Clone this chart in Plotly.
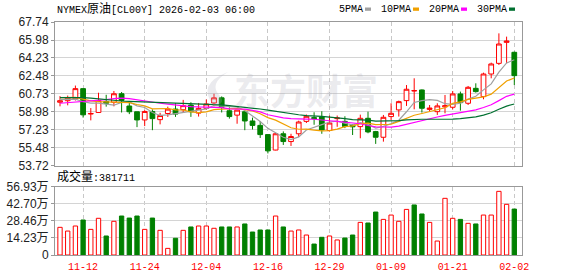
import plotly.graph_objects as go

# ---------------- data ----------------
dates = ["11-07", "11-10", "11-11", "11-12", "11-13", "11-14", "11-17", "11-18", "11-19", "11-20",
         "11-21", "11-24", "11-25", "11-26", "11-27", "11-28", "12-01", "12-02", "12-03", "12-04",
         "12-05", "12-08", "12-09", "12-10", "12-11", "12-12", "12-15", "12-16", "12-17", "12-18",
         "12-19", "12-22", "12-23", "12-24", "12-26", "12-29", "12-30", "12-31", "01-02", "01-05",
         "01-06", "01-07", "01-08", "01-09", "01-12", "01-13", "01-14", "01-15", "01-16", "01-19",
         "01-20", "01-21", "01-22", "01-23", "01-26", "01-27", "01-28", "01-29", "01-30", "02-02"]

opens = [59.90, 60.05, 60.23, 61.23, 58.75, 58.90, 59.98, 59.90, 60.73, 59.53,
         58.97, 58.17, 59.00, 58.20, 58.80, 59.23, 59.17, 59.63, 58.84, 59.30,
         59.83, 60.33, 59.07, 58.64, 58.97, 58.07, 57.64, 56.74, 55.23, 56.82,
         56.06, 56.82, 58.03, 58.40, 58.46, 57.14, 58.30, 58.03, 57.70, 57.52,
         58.33, 57.03, 56.48, 58.50, 59.15, 60.06, 61.00, 61.10, 59.20, 58.98,
         59.45, 59.41, 60.71, 59.80, 61.26, 60.45, 62.66, 63.70, 65.75, 64.78]
highs = [60.50, 60.55, 61.53, 61.25, 59.33, 60.83, 60.63, 61.00, 60.90, 59.90,
         58.97, 59.13, 59.20, 58.87, 59.47, 59.80, 60.13, 59.90, 59.83, 60.17,
         60.73, 60.47, 59.40, 59.13, 59.00, 58.40, 58.07, 56.74, 56.90, 57.05,
         56.82, 58.10, 58.70, 58.92, 59.02, 58.60, 58.60, 58.53, 57.75, 58.69,
         58.98, 57.10, 58.66, 59.80, 60.06, 61.58, 62.24, 61.15, 59.63, 59.80,
         60.61, 61.00, 60.94, 61.49, 61.75, 62.79, 63.77, 66.63, 66.31, 64.85]
lows = [59.50, 59.60, 60.07, 58.40, 58.13, 58.85, 59.47, 59.50, 58.90, 58.74,
        57.47, 57.57, 57.17, 57.74, 58.47, 58.47, 58.90, 58.47, 58.50, 59.17,
        59.50, 58.90, 58.30, 57.80, 57.17, 57.24, 56.41, 54.90, 55.20, 55.73,
        55.63, 56.49, 57.87, 57.70, 56.82, 57.04, 57.50, 57.37, 56.70, 56.38,
        56.87, 55.83, 56.05, 58.17, 58.50, 59.54, 59.21, 58.89, 58.98, 58.66,
        58.82, 59.21, 59.08, 59.63, 60.84, 60.19, 62.24, 63.54, 63.70, 61.58]
closes = [60.05, 60.30, 61.23, 58.67, 58.80, 60.07, 59.80, 60.73, 60.07, 58.97,
          58.17, 59.00, 58.30, 58.60, 59.23, 58.74, 59.57, 58.97, 59.30, 59.73,
          60.33, 59.40, 58.50, 59.13, 58.07, 57.64, 56.74, 55.15, 56.82, 56.06,
          56.55, 57.97, 58.53, 58.30, 57.20, 57.87, 58.36, 57.53, 57.50, 58.33,
          57.00, 56.48, 58.43, 58.82, 59.96, 61.17, 61.04, 59.31, 59.33, 59.54,
          59.56, 60.71, 59.86, 61.36, 60.94, 62.66, 63.64, 65.59, 65.88, 62.50]
volumes = [230000, 199000, 241000, 291000, 213000, 305000, 158000, 280000, 324000, 307000,
           324000, 213000, 307000, 205000, 55000, 139000, 205000, 233000, 241000, 241000,
           222000, 233000, 233000, 233000, 258000, 191000, 208000, 208000, 324000, 233000,
           199000, 208000, 166000, 91000, 147000, 158000, 125000, 141000, 166000, 271000,
           266000, 357000, 296000, 332000, 280000, 379000, 416000, 341000, 271000, 116000,
           471000, 305000, 296000, 263000, 258000, 332000, 332000, 529000, 421000, 381711]

ma5 = [60.15, 60.20, 60.20, 59.95, 59.81, 59.81, 59.71, 59.61, 59.89, 59.93,
       59.55, 59.39, 58.90, 58.61, 58.66, 58.77, 58.89, 59.02, 59.16, 59.26,
       59.58, 59.55, 59.45, 59.42, 59.09, 58.55, 58.02, 57.35, 56.88, 56.48,
       56.26, 56.51, 57.19, 57.48, 57.71, 57.97, 58.05, 57.85, 57.69, 57.92,
       57.74, 57.37, 57.55, 57.81, 58.14, 58.97, 59.88, 60.06, 60.16, 60.08,
       59.76, 59.69, 59.80, 60.21, 60.49, 61.11, 61.69, 62.84, 63.74, 64.05]
ma10 = [60.35, 60.38, 60.38, 60.20, 60.03, 59.96, 59.93, 59.90, 59.86, 59.87,
        59.68, 59.55, 59.26, 59.25, 59.29, 59.16, 59.14, 58.96, 58.89, 58.96,
        59.18, 59.22, 59.24, 59.29, 59.17, 59.06, 58.78, 58.40, 58.15, 57.78,
        57.41, 57.26, 57.27, 57.18, 57.10, 57.12, 57.28, 57.52, 57.59, 57.81,
        57.86, 57.71, 57.70, 57.75, 58.03, 58.36, 58.63, 58.80, 58.99, 59.11,
        59.36, 59.79, 59.93, 60.18, 60.28, 60.43, 60.69, 61.32, 61.97, 62.27]
ma20 = [59.80, 59.85, 59.90, 59.95, 60.00, 60.06, 60.15, 60.25, 60.30, 60.25,
        60.12, 60.00, 59.90, 59.80, 59.72, 59.62, 59.55, 59.48, 59.44, 59.42,
        59.43, 59.38, 59.25, 59.27, 59.23, 59.11, 58.96, 58.68, 58.52, 58.37,
        58.29, 58.24, 58.25, 58.24, 58.14, 58.09, 58.03, 57.96, 57.87, 57.80,
        57.63, 57.49, 57.48, 57.47, 57.56, 57.74, 57.95, 58.16, 58.29, 58.46,
        58.61, 58.75, 58.82, 58.97, 59.16, 59.39, 59.66, 60.06, 60.48, 60.69]
ma30 = [60.35, 60.36, 60.36, 60.35, 60.30, 60.22, 60.15, 60.08, 60.02, 59.98,
        59.95, 59.92, 59.90, 59.88, 59.86, 59.84, 59.82, 59.80, 59.77, 59.74,
        59.70, 59.64, 59.57, 59.50, 59.42, 59.34, 59.24, 59.13, 59.00, 58.87,
        58.75, 58.68, 58.59, 58.57, 58.52, 58.45, 58.40, 58.29, 58.21, 58.19,
        58.15, 58.06, 58.07, 58.08, 58.10, 58.18, 58.23, 58.24, 58.24, 58.24,
        58.21, 58.25, 58.30, 58.37, 58.47, 58.64, 58.87, 59.21, 59.52, 59.73]

ma_names = ["5PMA", "10PMA", "20PMA", "30PMA"]
ma_colors = ["#a0a0a0", "#f0a000", "#ff00ff", "#007030"]

tick_dates = ["11-12", "11-24", "12-04", "12-16", "12-29", "01-09", "01-21", "02-02"]
price_ticks = [53.72, 55.48, 57.23, 58.98, 60.73, 62.48, 64.23, 65.98, 67.74]
price_tick_text = ["53.72", "55.48", "57.23", "58.98", "60.73", "62.48", "64.23", "65.98", "67.74"]
vol_ticks = [0, 142300, 284600, 427000, 569300]
vol_tick_text = ["0", "14.23万", "28.46万", "42.70万", "56.93万"]

title_parts = ["NYMEX", "原油", "[CL00Y] 2026-02-03 06:00"]
vol_label = ["成交量", ":381711"]
watermark = "东方财富"

# ---------------- styles ----------------
RED = "#ff0000"
GREEN = "#008000"
MONO = "Liberation Mono, Noto Sans CJK SC, monospace"
SANS = "Liberation Sans, Noto Sans CJK SC, sans-serif"
W, H = 578, 276
ML, MR, MT, MB = 55, 56, 22, 21
PW, PH = W - ML - MR, H - MT - MB


def fx(px):
    return (px - ML) / PW


def fy(py):
    return (H - MB - py) / PH


fig = go.Figure()

# volume colours: up vs previous close
vol_up = []
for i, c in enumerate(closes):
    ref = opens[0] if i == 0 else closes[i - 1]
    vol_up.append(c >= ref)

fig.add_trace(go.Bar(
    x=dates, y=volumes, xaxis="x", yaxis="y2", width=0.56,
    marker=dict(color=["#ffffff" if u else GREEN for u in vol_up],
                line=dict(color=[RED if u else GREEN for u in vol_up], width=1)),
    hoverinfo="skip", showlegend=False))

for name, col, vals in zip(ma_names, ma_colors, [ma5, ma10, ma20, ma30]):
    fig.add_trace(go.Scatter(x=dates, y=vals, xaxis="x2", yaxis="y", mode="lines",
                             line=dict(color=col, width=1.2), name=name,
                             hoverinfo="skip", showlegend=False))

fig.add_trace(go.Candlestick(
    x=dates, open=opens, high=highs, low=lows, close=closes, xaxis="x2", yaxis="y",
    increasing=dict(line=dict(color=RED, width=1), fillcolor="#ffffff"),
    decreasing=dict(line=dict(color=GREEN, width=1), fillcolor=GREEN),
    whiskerwidth=0, hoverinfo="skip", showlegend=False))

grid_x = dict(type="category", range=[-0.65, 60.0], tickvals=tick_dates, ticktext=tick_dates,
              showgrid=True, gridcolor="#c8c8c8", griddash="4px,3px", gridwidth=1,
              showline=True, mirror=True, linecolor="#999999", linewidth=1,
              zeroline=False, fixedrange=True, automargin=False)

fig.update_layout(
    width=W, height=H, margin=dict(l=ML, r=MR, t=MT, b=MB, pad=0, autoexpand=False),
    paper_bgcolor="#ffffff", plot_bgcolor="#ffffff",
    showlegend=False, boxgap=0.3, boxgroupgap=0.12,
    xaxis=dict(grid_x, anchor="y2", domain=[0, 1], showticklabels=True,
               tickfont=dict(family=MONO, size=10, color=RED),
               ticks="outside", ticklen=2, tickcolor="rgba(0,0,0,0)"),
    xaxis2=dict(grid_x, anchor="y", domain=[0, 1], matches="x", showticklabels=False,
                ticks="", rangeslider=dict(visible=False)),
    yaxis=dict(domain=[fy(165.5), 1], range=[price_ticks[0], price_ticks[-1]],
               tickvals=price_ticks, ticktext=price_tick_text,
               tickfont=dict(family=SANS, size=12, color="#222222"),
               showgrid=True, gridcolor="#d4d4d4", gridwidth=1,
               showline=True, mirror=True, linecolor="#999999", linewidth=1,
               ticks="outside", ticklen=3, tickcolor="#999999", zeroline=False,
               automargin=False),
    yaxis2=dict(domain=[0, fy(186.5)], range=[vol_ticks[0], vol_ticks[-1]],
                tickvals=vol_ticks, ticktext=vol_tick_text,
                tickfont=dict(family=SANS, size=12, color="#222222"),
                showgrid=True, gridcolor="#d4d4d4", gridwidth=1,
                showline=True, mirror=True, linecolor="#999999", linewidth=1,
                ticks="outside", ticklen=3, tickcolor="#999999", zeroline=False,
                automargin=False),
)

annotations = []
# watermark
annotations.append(dict(xref="paper", yref="paper", x=fx(306), y=fy(89), text="<b>" + watermark + "</b>",
                        showarrow=False, xanchor="center", yanchor="middle",
                        font=dict(family="Noto Sans CJK SC", size=36, color="rgba(175,175,190,0.26)")))
# title
annotations.append(dict(xref="paper", yref="paper", x=fx(55), y=fy(9.5), xanchor="left", yanchor="middle",
                        showarrow=False,
                        text=title_parts[0] + "<span style='font-size:12px'>" + title_parts[1] + "</span>" + title_parts[2],
                        font=dict(family=MONO, size=10, color="#000000")))
# volume label
annotations.append(dict(xref="paper", yref="paper", x=fx(55), y=fy(177), xanchor="left", yanchor="middle",
                        showarrow=False,
                        text="<span style='font-size:12px'>" + vol_label[0] + "</span>" + vol_label[1],
                        font=dict(family=MONO, size=10, color="#000000")))

shapes = []
# watermark logo (light crescent)
shapes.append(dict(type="path", xref="paper", yref="paper",
                   path=("M %f %f Q %f %f %f %f Q %f %f %f %f Q %f %f %f %f Z" % (
                       fx(228), fy(72), fx(196), fy(84), fx(214), fy(106),
                       fx(226), fy(104), fx(220), fy(96),
                       fx(208), fy(84), fx(228), fy(72))),
                   fillcolor="rgba(175,175,190,0.26)", line=dict(width=0)))
xpos = 337
for name, col in zip(ma_names, ma_colors):
    annotations.append(dict(xref="paper", yref="paper", x=fx(xpos), y=fy(9.5), xanchor="left",
                            yanchor="middle", showarrow=False, text=name,
                            font=dict(family=MONO, size=10, color="#000000")))
    xpos += 6 * len(name) + 4
    shapes.append(dict(type="rect", xref="paper", yref="paper", x0=fx(xpos), x1=fx(xpos + 6),
                       y0=fy(10.8), y1=fy(7.5), fillcolor=col, line=dict(width=0)))
    xpos += 6 + 8

fig.update_layout(annotations=annotations, shapes=shapes)

fig.write_html("out.html", config={"displayModeBar": False, "staticPlot": True})
